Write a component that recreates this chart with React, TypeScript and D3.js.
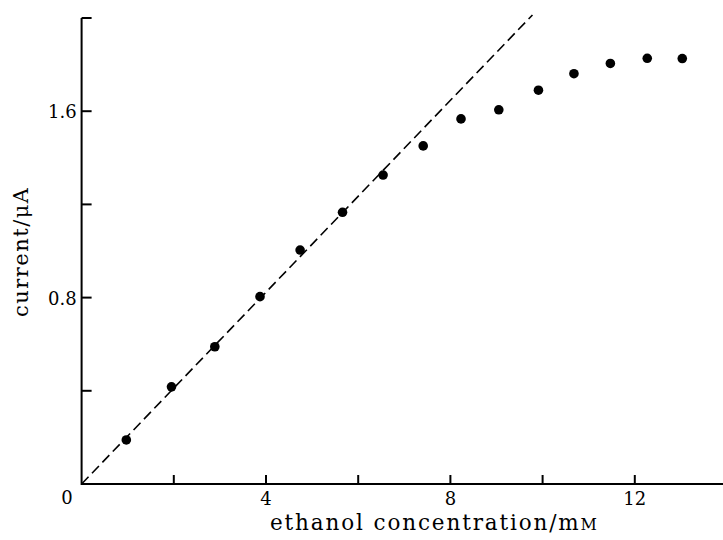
import * as d3 from "d3";

// ethanol concentration (mM) and current (µA)
const concentration = [0.97, 1.95, 2.89, 3.87, 4.74, 5.66, 6.54, 7.41, 8.23, 9.05, 9.91, 10.68, 11.47, 12.27, 13.03];
const current = [0.189, 0.417, 0.589, 0.804, 1.004, 1.166, 1.326, 1.451, 1.567, 1.606, 1.69, 1.761, 1.805, 1.827, 1.826];

// dashed initial-slope line
const fitX = [0, 9.78];
const fitY = [0, 2.013];

const xTicks = [2, 4, 6, 8, 10, 12];
const xLabels = [4, 8, 12];
const yTicks = [0.4, 0.8, 1.2, 1.6, 2.0];
const yLabels = [0.8, 1.6];

const W = 723;
const H = 540;
const FONT = "'DejaVu Serif', 'Liberation Serif', serif";

export default function App() {
  const x = d3.scaleLinear().domain([0, 2]).range([81.6, 173.8]);
  const y = d3.scaleLinear().domain([0, 2]).range([484, 18]);
  const x0 = x(0);
  const y0 = y(0);

  const fitLine = d3
    .line<number>()
    .x((d) => x(fitX[d]))
    .y((d) => y(fitY[d]))([0, 1]);

  return (
    <svg
      width={W}
      height={H}
      style={{ position: "absolute", left: 0, top: 0, background: "#fff" }}
    >
      {/* axes */}
      <line x1={x0} y1={y0} x2={W} y2={y0} stroke="#000" strokeWidth={2} />
      <line x1={x0} y1={y0 + 1} x2={x0} y2={y(2.0)} stroke="#000" strokeWidth={2} />

      {xTicks.map((t) => (
        <line key={"xt" + t} x1={x(t)} x2={x(t)} y1={y0} y2={y0 - 9} stroke="#000" strokeWidth={2} />
      ))}
      {yTicks.map((t) => (
        <line key={"yt" + t} x1={x0} x2={x0 + 10} y1={y(t)} y2={y(t)} stroke="#000" strokeWidth={2} />
      ))}

      <g fontFamily={FONT} fontSize={18} fill="#000">
        {xLabels.map((t) => (
          <text key={"xl" + t} x={x(t)} y={y0 + 21} textAnchor="middle">
            {t}
          </text>
        ))}
        {yLabels.map((t) => (
          <text key={"yl" + t} x={x0 - 5} y={y(t) + 7} textAnchor="end">
            {t.toFixed(1)}
          </text>
        ))}
        <text x={x0 - 9} y={y0 + 20} textAnchor="end">
          0
        </text>
      </g>

      <text
        x={270}
        y={530}
        fontFamily={FONT}
        fontSize={21.5}
        fill="#000"
        textLength={327}
        lengthAdjust="spacing"
      >
        ethanol concentration/m<tspan fontSize={16}>M</tspan>
      </text>
      <text
        transform="translate(28, 317) rotate(-90)"
        fontFamily={FONT}
        fontSize={21}
        fill="#000"
        textLength={129}
        lengthAdjust="spacing"
      >
        current/μA
      </text>

      <path d={fitLine ?? ""} fill="none" stroke="#000" strokeWidth={1.6} strokeDasharray="10,5" />

      {concentration.map((c, i) => (
        <circle key={i} cx={x(c)} cy={y(current[i])} r={4.8} fill="#000" />
      ))}
    </svg>
  );
}
